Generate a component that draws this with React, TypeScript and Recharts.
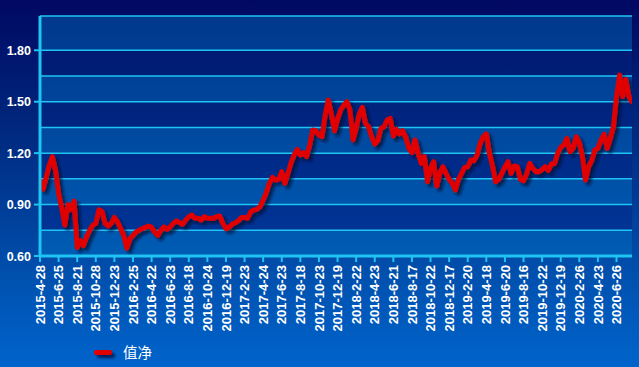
import React from 'react';
import { LineChart, Line, XAxis, YAxis, CartesianGrid } from 'recharts';

const tickLabels = [
  '2015-4-28', '2015-6-25', '2015-8-21', '2015-10-28', '2015-12-23', '2016-2-25',
  '2016-4-22', '2016-6-23', '2016-8-18', '2016-10-24', '2016-12-19', '2017-2-23',
  '2017-4-24', '2017-6-23', '2017-8-18', '2017-10-23', '2017-12-19', '2018-2-22',
  '2018-4-23', '2018-6-21', '2018-8-17', '2018-10-22', '2018-12-17', '2019-2-20',
  '2019-4-18', '2019-6-20', '2019-8-16', '2019-10-22', '2019-12-19', '2020-2-26',
  '2020-4-23', '2020-6-26',
];

const navValues = [
  1.04, 0.99, 1.06, 1.13, 1.18, 1.10, 0.965, 0.88, 0.78, 0.90,
  0.87, 0.92, 0.65, 0.69, 0.66, 0.71, 0.75, 0.78, 0.79, 0.87,
  0.86, 0.79, 0.775, 0.79, 0.825, 0.80, 0.76, 0.72, 0.645, 0.70,
  0.72, 0.74, 0.75, 0.76, 0.767, 0.775, 0.767, 0.74, 0.72, 0.75,
  0.77, 0.755, 0.77, 0.79, 0.805, 0.795, 0.785, 0.81, 0.829, 0.839,
  0.82, 0.82, 0.81, 0.83, 0.82, 0.82, 0.82, 0.83, 0.833, 0.79,
  0.76, 0.767, 0.786, 0.794, 0.806, 0.825, 0.825, 0.82, 0.858, 0.868,
  0.872, 0.888, 0.927, 0.969, 1.024, 1.059, 1.043, 1.047, 1.092, 1.024,
  1.082, 1.144, 1.189, 1.222, 1.189, 1.203, 1.18, 1.247, 1.335, 1.331,
  1.306, 1.296, 1.422, 1.51, 1.43, 1.33, 1.397, 1.452, 1.479, 1.50,
  1.452, 1.277, 1.345, 1.428, 1.467, 1.374, 1.354, 1.296, 1.253, 1.273,
  1.345, 1.354, 1.393, 1.403, 1.30, 1.339, 1.312, 1.331, 1.292, 1.228,
  1.203, 1.277, 1.199, 1.14, 1.18, 1.033, 1.111, 1.15, 1.008, 1.082,
  1.121, 1.082, 1.047, 1.024, 0.985, 1.047, 1.082, 1.117, 1.121, 1.16,
  1.156, 1.189, 1.257, 1.296, 1.312, 1.199, 1.125, 1.033, 1.047, 1.082,
  1.121, 1.15, 1.082, 1.125, 1.121, 1.047, 1.039, 1.078, 1.14, 1.111,
  1.092, 1.092, 1.105, 1.121, 1.10, 1.137, 1.14, 1.199, 1.234, 1.247,
  1.286, 1.209, 1.228, 1.296, 1.261, 1.18, 1.043, 1.121, 1.156, 1.218,
  1.228, 1.277, 1.31, 1.228, 1.286, 1.354, 1.53, 1.656, 1.53, 1.63,
  1.53, 1.50,
];

const yTickValues = [0.6, 0.75, 0.9, 1.05, 1.2, 1.35, 1.5, 1.65, 1.8, 2.0];
const yLabelValues = [0.6, 0.9, 1.2, 1.5, 1.8];
const POINTS_PER_TICK = 6;
const seriesName = '值净';

const data = navValues.map((v, i) => ({ i, v }));
const xTicks = tickLabels.map((_, k) => k * POINTS_PER_TICK);

const CYAN = '#1ec4f2';
const LINE_RED = '#e00000';
const TICK_FONT = "'Liberation Sans', Arial, sans-serif";

const YTick = (props: any) => {
  const { x, y, payload } = props;
  const v = payload.value;
  const labeled = yLabelValues.some((l) => Math.abs(l - v) < 1e-6);
  if (!labeled) return <g />;
  return (
    <g>
      <line x1={x + 3} x2={x + 9} y1={y} y2={y} stroke={CYAN} strokeWidth={2} />
      <text
        x={x}
        y={y}
        dy="0.36em"
        textAnchor="end"
        fill="#ffffff"
        fontFamily={TICK_FONT}
        fontWeight="bold"
        fontSize={12.5}
      >
        {v.toFixed(2)}
      </text>
    </g>
  );
};

const XTick = (props: any) => {
  const { x, y, payload } = props;
  const label = tickLabels[Math.round(payload.value / POINTS_PER_TICK)] ?? '';
  return (
    <text
      x={x}
      y={y}
      transform={`rotate(-90, ${x}, ${y})`}
      dy="0.36em"
      textAnchor="end"
      fill="#ffffff"
      fontFamily={TICK_FONT}
      fontWeight="bold"
      fontSize={13}
    >
      {label}
    </text>
  );
};

export default function App() {
  return (
    <div
      style={{
        position: 'fixed',
        left: 0,
        top: 0,
        width: 639,
        height: 367,
        overflow: 'hidden',
        background: 'linear-gradient(180deg, #000862 0%, #00287e 35%, #0050ae 75%, #0064cc 100%)',
      }}
    >
      <svg width={0} height={0} style={{ position: 'absolute' }}>
        <defs>
          <filter id="lineShadow" x="-5%" y="-10%" width="115%" height="130%">
            <feDropShadow dx="3" dy="3" stdDeviation="1.6" floodColor="#000a30" floodOpacity="0.75" />
          </filter>
          <linearGradient id="bandLight" gradientUnits="userSpaceOnUse" x1="0" y1="16" x2="0" y2="256">
            <stop offset="0%" stopColor="#00388c" />
            <stop offset="100%" stopColor="#005cb4" />
          </linearGradient>
          <linearGradient id="bandDark" gradientUnits="userSpaceOnUse" x1="0" y1="16" x2="0" y2="256">
            <stop offset="0%" stopColor="#00166c" />
            <stop offset="100%" stopColor="#00389a" />
          </linearGradient>
        </defs>
      </svg>
      <LineChart
        width={639}
        height={367}
        data={data}
        margin={{ top: 16, right: 7, bottom: 0, left: 0 }}
      >
        <CartesianGrid
          vertical={false}
          stroke={CYAN}
          strokeWidth={1.5}
          horizontalFill={['url(#bandLight)', 'url(#bandDark)']}
          fillOpacity={1}
        />
        <XAxis
          dataKey="i"
          type="number"
          domain={[0, navValues.length - 1]}
          ticks={xTicks}
          interval={0}
          height={111}
          tickSize={6}
          tickMargin={3}
          tickLine={{ stroke: CYAN, strokeWidth: 2 }}
          axisLine={{ stroke: CYAN, strokeWidth: 3 }}
          tick={<XTick />}
          allowDataOverflow
        />
        <YAxis
          type="number"
          domain={[0.6, 2.0]}
          ticks={yTickValues}
          interval={0}
          width={40}
          tickSize={6}
          tickMargin={3}
          tickLine={false}
          axisLine={{ stroke: CYAN, strokeWidth: 3 }}
          tick={<YTick />}
          allowDataOverflow
        />
        <Line
          type="linear"
          dataKey="v"
          name={seriesName}
          stroke={LINE_RED}
          strokeWidth={5}
          strokeLinejoin="round"
          strokeLinecap="round"
          dot={false}
          activeDot={false}
          filter="url(#lineShadow)"
          isAnimationActive={false}
        />
      </LineChart>
      <div
        style={{
          position: 'absolute',
          left: 94,
          top: 340,
          display: 'flex',
          alignItems: 'center',
          height: 24,
        }}
      >
        <div
          style={{
            width: 18,
            height: 5,
            background: LINE_RED,
            borderRadius: 2,
            boxShadow: '3px 3px 3px rgba(0,10,48,0.75)',
          }}
        />
        <span
          style={{
            marginLeft: 11,
            color: '#ffffff',
            fontFamily: "'Noto Sans CJK SC', sans-serif",
            fontSize: 14.5,
            lineHeight: '24px',
          }}
        >
          {seriesName}
        </span>
      </div>
    </div>
  );
}
